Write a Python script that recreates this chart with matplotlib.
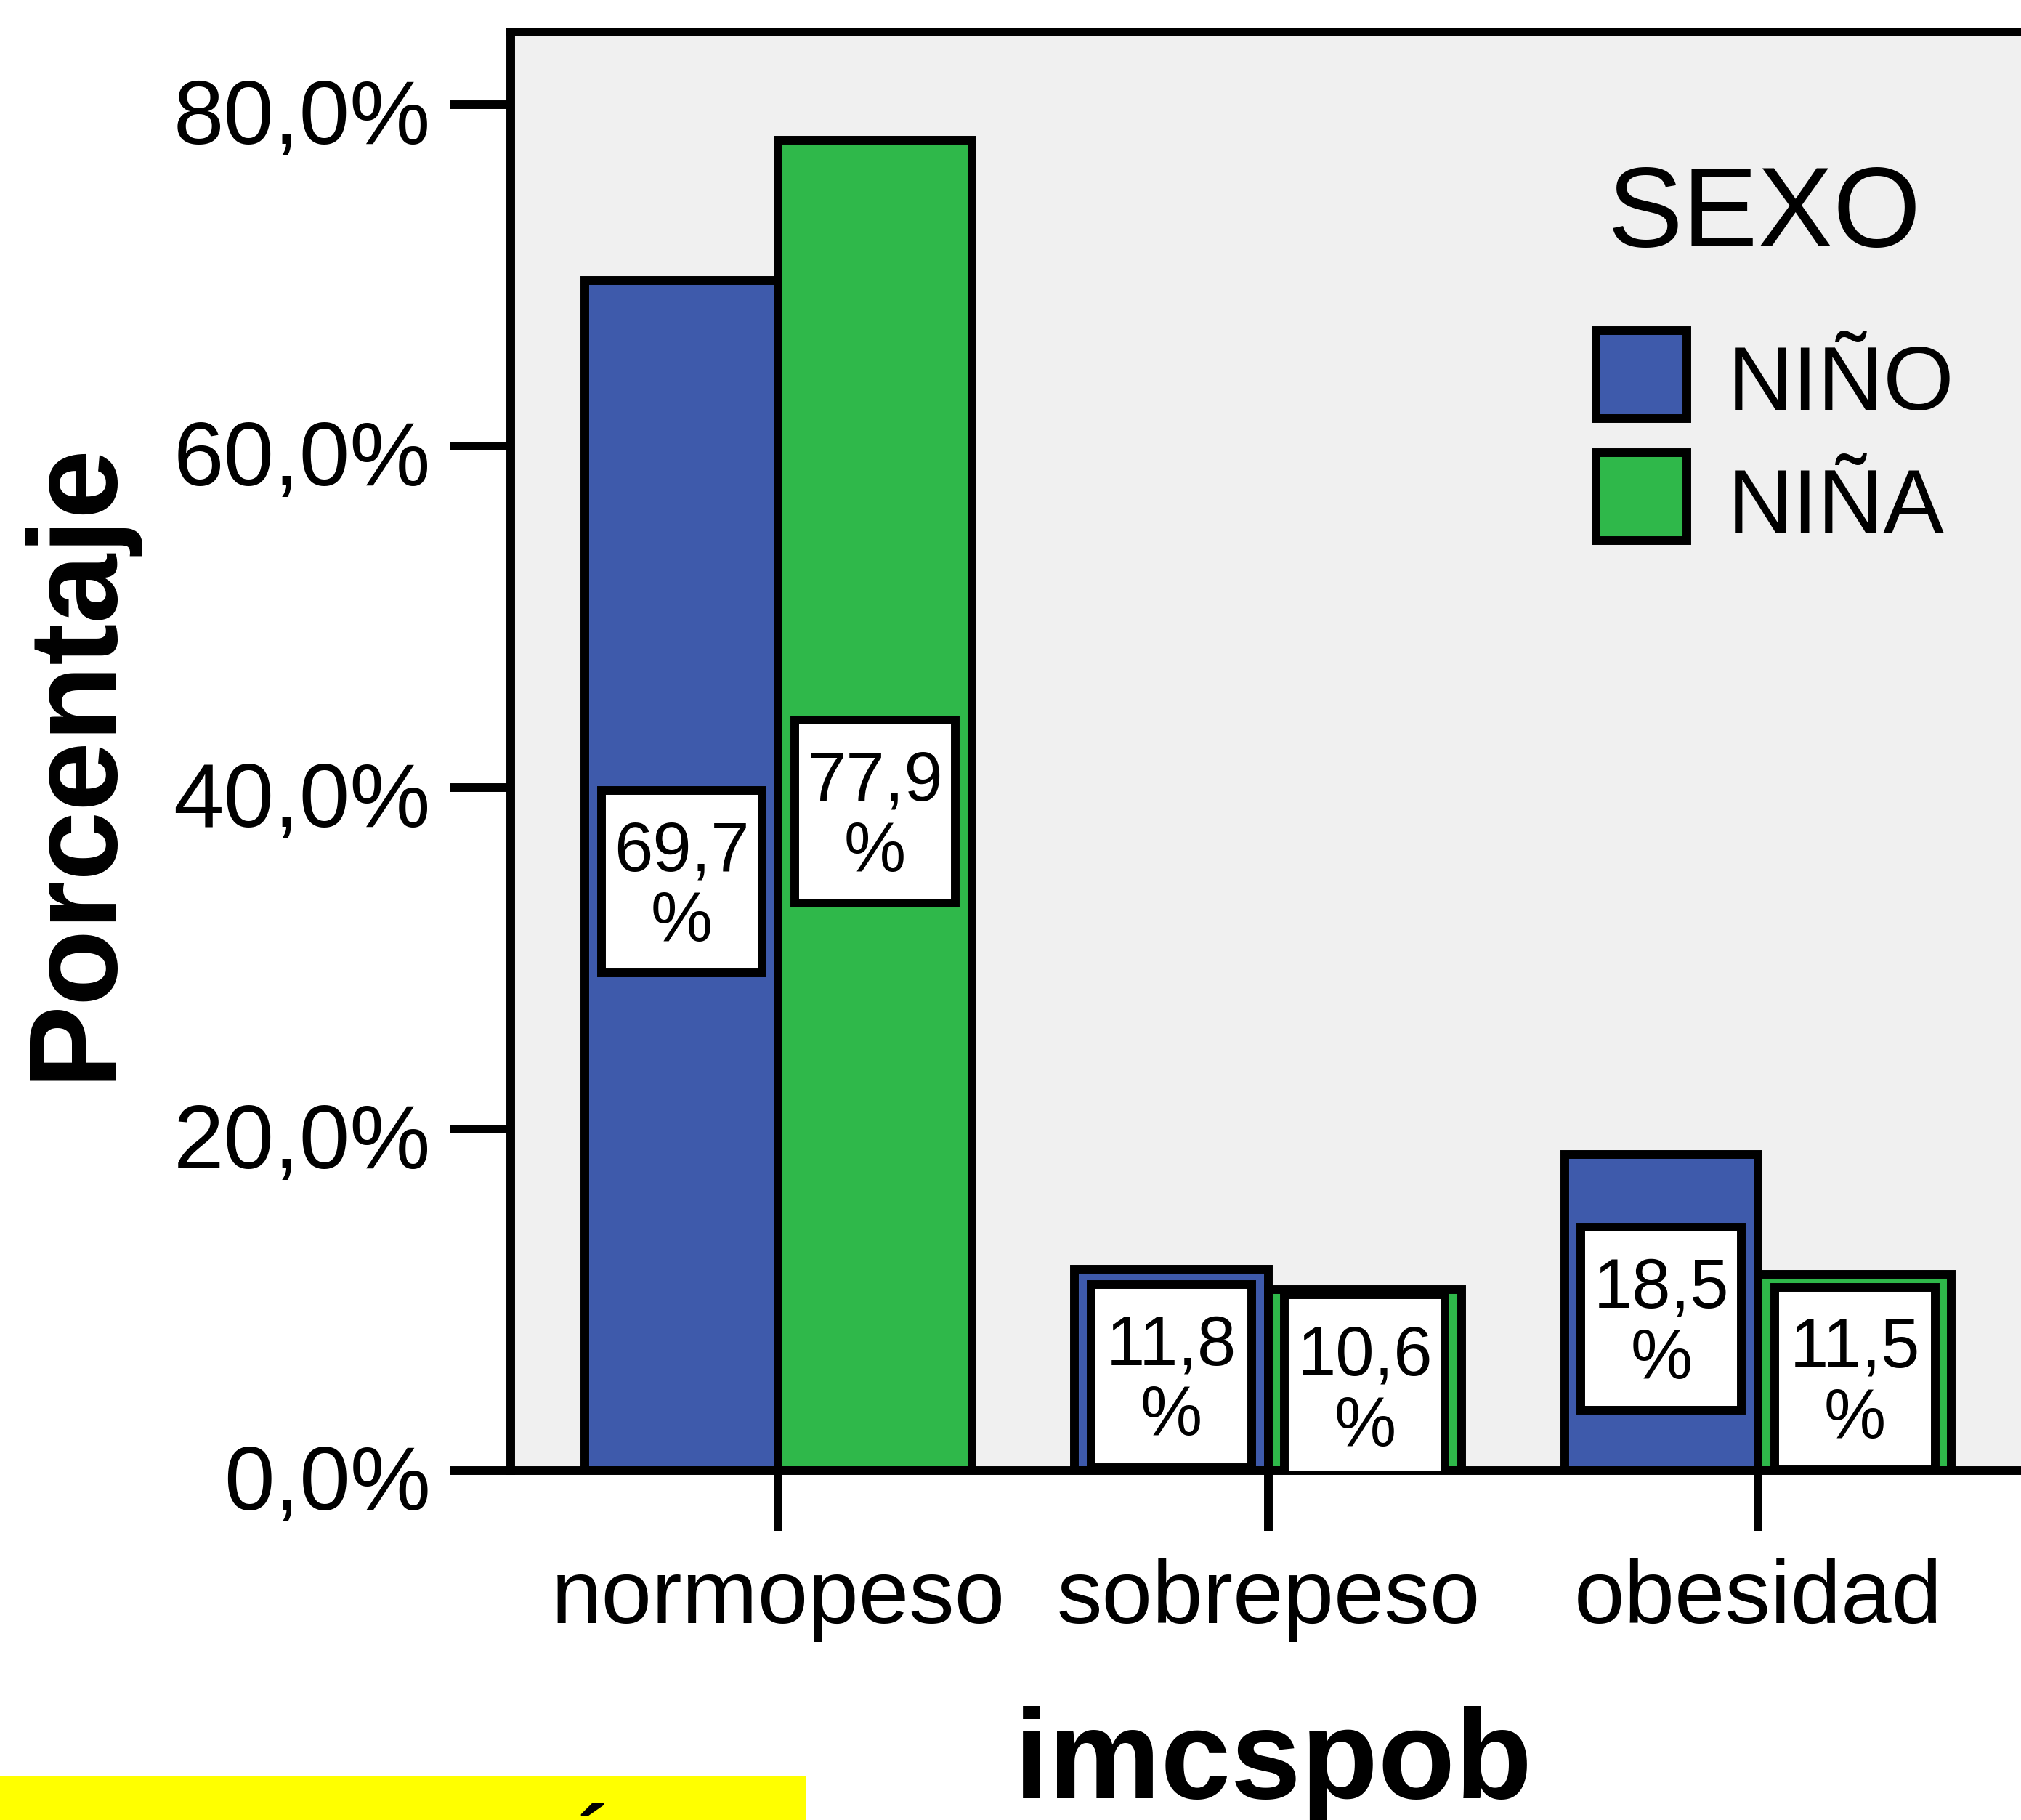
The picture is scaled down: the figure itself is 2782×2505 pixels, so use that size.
import matplotlib
matplotlib.use("Agg")
import matplotlib.pyplot as plt
import matplotlib.patches as mpatches
import matplotlib.transforms as mtransforms
import numpy as np

# ---- data ----
categories = ["normopeso", "sobrepeso", "obesidad"]
series_names = ["NIÑO", "NIÑA"]
nino = [69.7, 11.8, 18.5]
nina = [77.9, 10.6, 11.5]
yticks = [0, 20, 40, 60, 80]
ytick_labels = ["0,0%", "20,0%", "40,0%", "60,0%", "80,0%"]
legend_title = "SEXO"
xlabel = "imcspob"
ylabel = "Porcentaje"
footer = "BIBLIOGRAFÍA"

colors = ["#3e5aab", "#2fb84a"]

plt.rcParams["font.family"] = ["Liberation Sans", "DejaVu Sans"]

W, H = 2782, 2505
DPI = 100
fig = plt.figure(figsize=(W / DPI, H / DPI), dpi=DPI)
fig.patch.set_facecolor("white")

DW, DH = 1568, 1412  # reference display grid used for layout fractions


def fx(v):
    return v / DW


def fy(v):
    return 1 - v / DH


left = fx(396)
bottom = fy(1141)
top = fy(25)
right = 1.0032
ax = fig.add_axes([left, bottom, right - left, top - bottom])
ax.set_facecolor("#f0f0f0")

bw = 0.395
x = np.arange(len(categories))
lw = 8.6
for vals, off, col in [(nino, -bw / 2, colors[0]), (nina, bw / 2, colors[1])]:
    ax.bar(x + off, vals, width=bw, color=col, edgecolor="black", linewidth=lw, zorder=2)
    for xi, v in zip(x + off, vals):
        bh = 10.7
        bwid = bw * 0.83
        cy = v / 2 - 0.35
        rect = mpatches.Rectangle((xi - bwid / 2, cy - bh / 2), bwid, bh,
                                  facecolor="white", edgecolor="black", linewidth=lw, zorder=3)
        ax.add_patch(rect)
        ax.text(xi, cy - 0.35, f"{v:.1f}".replace(".", ",") + "\n%", ha="center", va="center",
                fontsize=69, linespacing=1.1, zorder=4)

ax.set_xlim(-0.547, 2.55)
ax.set_ylim(0, 84.23)
ax.set_yticks(yticks)
ax.set_yticklabels(ytick_labels)
ax.set_xticks(x)
ax.set_xticklabels(categories)
ax.tick_params(axis="both", length=60, width=lw, labelsize=90, color="black")
ax.tick_params(axis="y", pad=19)
ax.tick_params(axis="x", pad=26)
for s in ["left", "top", "bottom"]:
    ax.spines[s].set_linewidth(lw)
ax.spines["right"].set_visible(False)
offset = mtransforms.ScaledTranslation(0, -6.5 / 72, fig.dpi_scale_trans)
for lab in ax.get_yticklabels():
    lab.set_transform(lab.get_transform() + offset)

fig.text(fx(14), 0.5 * (fy(345) + fy(835)), ylabel, rotation=90,
         ha="left", va="center", fontsize=124, fontweight="bold")
fig.text(fx(988), fy(1395), xlabel, ha="center", va="baseline",
         fontsize=125, fontweight="bold")

# legend (drawn as figure artists)
half_x = (lw / 72 * DPI / 2) / W
half_y = (lw / 72 * DPI / 2) / H
box_tops = [253, 348]
box_bottoms = [328, 423]
baselines = [318, 413]
for name, col, t, b, bl in zip(series_names, colors, box_tops, box_bottoms, baselines):
    x0 = fx(1235) + half_x
    x1 = fx(1312) - half_x
    y0 = fy(b) + half_y
    y1 = fy(t) - half_y
    fig.patches.append(mpatches.Rectangle((x0, y0), x1 - x0, y1 - y0,
                                          transform=fig.transFigure, facecolor=col,
                                          edgecolor="black", linewidth=lw))
    fig.text(fx(1340), fy(bl), name, ha="left", va="baseline", fontsize=90)
fig.text(fx(1247), fy(191), legend_title, ha="left", va="baseline", fontsize=112)

# footer yellow box with cut text
fig.patches.append(mpatches.Rectangle((0, 0), fx(625), fy(1378),
                                      transform=fig.transFigure, facecolor="#ffff00",
                                      edgecolor="none", zorder=0))
fig.text(0.0, -90 / H, footer, ha="left", va="baseline", fontsize=92, fontweight="bold")

fig.savefig("out.png", dpi=DPI)
